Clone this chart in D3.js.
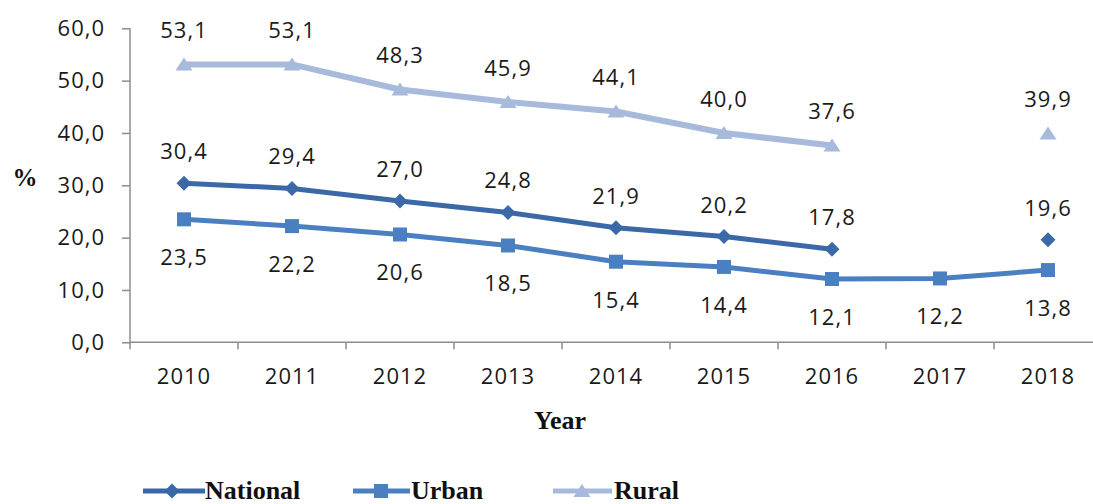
<!DOCTYPE html>
<html>
<head>
<meta charset="utf-8">
<script src="https://cdn.jsdelivr.net/npm/d3@7"></script>
<style>
  html, body { margin: 0; padding: 0; background: #fff; }
  svg { display: block; }
</style>
</head>
<body>
<svg id="chart" width="1093" height="504"></svg>
<script>
const years = ["2010","2011","2012","2013","2014","2015","2016","2017","2018"];
const national = [30.4, 29.4, 27.0, 24.8, 21.9, 20.2, 17.8, null, 19.6];
const urban    = [23.5, 22.2, 20.6, 18.5, 15.4, 14.4, 12.1, 12.2, 13.8];
const rural    = [53.1, 53.1, 48.3, 45.9, 44.1, 40.0, 37.6, null, 39.9];
const yTicks   = [0, 10, 20, 30, 40, 50, 60];
const seriesNames = ["National", "Urban", "Rural"];

const colors = { National: "#3b68a6", Urban: "#4a7fc1", Rural: "#a7badb" };
const fmt = v => v.toFixed(1).replace(".", ",");

const svg = d3.select("#chart");
const pLeft = 130, pRight = 130 + 108 * 9, pTop = 28.3, pBottom = 342.3;

const x = d3.scaleBand().domain(years).range([pLeft, pRight]).padding(0);
const y = d3.scaleLinear().domain([0, 60]).range([pBottom, pTop]);
const cx = d => x(d) + x.bandwidth() / 2;

const numFont = "'Open Sans', sans-serif";
const numSize = 22;
const numSpacing = "1px";
const serif = "'Liberation Serif', 'Times New Roman', serif";

// Y axis
const yAxis = svg.append("g").attr("transform", `translate(${pLeft},0)`)
  .call(d3.axisLeft(y).tickValues(yTicks).tickSize(8).tickPadding(17).tickFormat(fmt));
yAxis.select(".domain").attr("stroke", "#8c8c8c").attr("stroke-width", 1.5)
  .attr("d", `M0,${pTop}V${pBottom + 7}`);
yAxis.selectAll(".tick line").attr("stroke", "#8c8c8c").attr("stroke-width", 1.5);
yAxis.selectAll(".tick text").attr("font-family", numFont).attr("font-size", numSize)
  .attr("letter-spacing", numSpacing).attr("fill", "#1a1a1a");

// X axis
const xAxis = svg.append("g").attr("transform", `translate(0,${pBottom})`)
  .call(d3.axisBottom(x).tickSize(0).tickPadding(26));
xAxis.select(".domain").attr("stroke", "#8c8c8c").attr("stroke-width", 1.5)
  .attr("d", `M${pLeft},0H${pRight}`);
xAxis.selectAll(".tick text").attr("font-family", numFont).attr("font-size", numSize)
  .attr("letter-spacing", numSpacing).attr("fill", "#1a1a1a");
// boundary ticks
svg.append("g").selectAll("line").data(years.slice(1)).join("line")
  .attr("x1", d => x(d)).attr("x2", d => x(d))
  .attr("y1", pBottom).attr("y2", pBottom + 7)
  .attr("stroke", "#8c8c8c").attr("stroke-width", 1.5);

// Axis titles
svg.append("text").attr("x", 560).attr("y", 429).attr("text-anchor", "middle")
  .attr("font-family", serif).attr("font-weight", "bold").attr("font-size", 26)
  .attr("fill", "#111").text("Year");
svg.append("text").attr("x", 25).attr("y", 186).attr("text-anchor", "middle")
  .attr("font-family", serif).attr("font-weight", "bold").attr("font-size", 25)
  .attr("fill", "#111").text("%");

// markers
const markerPath = {
  National: "M0,-7.5L7.5,0L0,7.5L-7.5,0Z",
  Urban: "M-7,-7H7V7H-7Z",
  Rural: "M0,-7L8.5,6L-8.5,6Z"
};

const seriesData = [
  { name: "National", values: national, width: 5, labelDy: -32 },
  { name: "Urban", values: urban, width: 5, labelDy: 38 },
  { name: "Rural", values: rural, width: 6, labelDy: -34 }
];

const line = d3.line()
  .defined(d => d.v != null)
  .x(d => cx(d.year)).y(d => y(d.v));

const plot = svg.append("g");
[seriesData[2], seriesData[1], seriesData[0]].forEach(s => {
  const pts = years.map((yr, i) => ({ year: yr, v: s.values[i] }));
  plot.append("path").datum(pts)
    .attr("fill", "none").attr("stroke", colors[s.name])
    .attr("stroke-width", s.width).attr("stroke-linejoin", "round")
    .attr("d", line);
  const valid = pts.filter(p => p.v != null);
  plot.append("g").selectAll("path").data(valid).join("path")
    .attr("d", markerPath[s.name])
    .attr("transform", d => `translate(${cx(d.year)},${y(d.v)})`)
    .attr("fill", colors[s.name]);
  plot.append("g").selectAll("text").data(valid).join("text")
    .attr("x", d => cx(d.year)).attr("y", d => y(d.v) + s.labelDy)
    .attr("dy", "0.36em").attr("text-anchor", "middle")
    .attr("font-family", numFont).attr("font-size", numSize)
    .attr("letter-spacing", numSpacing).attr("fill", "#1a1a1a")
    .text(d => fmt(d.v));
});

// Legend
const legendItems = [
  { name: "National", x0: 143, x1: 205, mx: 172, tx: 205 },
  { name: "Urban", x0: 353, x1: 410, mx: 381, tx: 411 },
  { name: "Rural", x0: 553, x1: 612, mx: 582, tx: 614 }
];
const ly = 491;
const lg = svg.append("g");
legendItems.forEach(it => {
  lg.append("line").attr("x1", it.x0).attr("x2", it.x1).attr("y1", ly).attr("y2", ly)
    .attr("stroke", colors[it.name]).attr("stroke-width", 5);
  lg.append("path").attr("d", markerPath[it.name])
    .attr("transform", `translate(${it.mx},${ly})`).attr("fill", colors[it.name]);
  lg.append("text").attr("x", it.tx).attr("y", 499)
    .attr("font-family", serif).attr("font-weight", "bold").attr("font-size", 26)
    .attr("fill", "#111").text(it.name);
});
</script>
</body>
</html>
